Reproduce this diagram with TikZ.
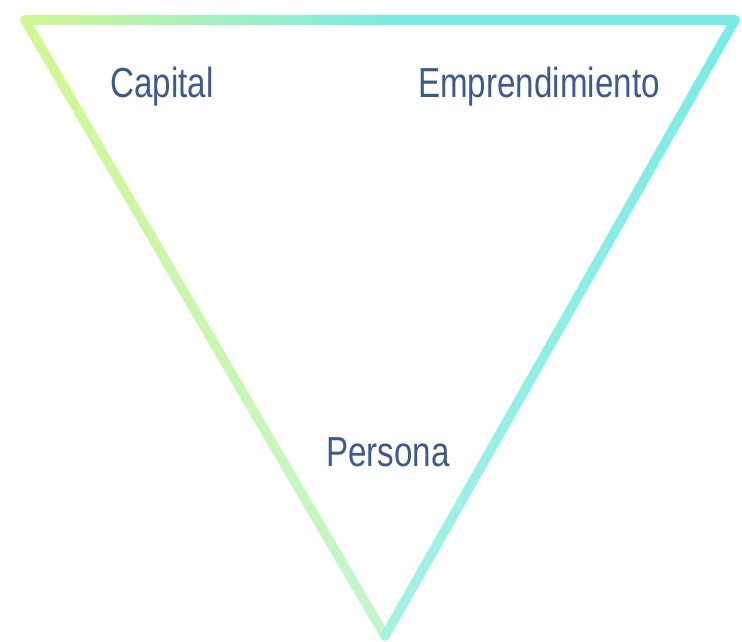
\documentclass[tikz,border=0pt]{standalone}
\usepackage{fontspec}
\setmainfont{Liberation Sans}[FakeStretch=0.79]
\usetikzlibrary{calc}
\definecolor{txt}{RGB}{61,90,138}
\definecolor{yg}{RGB}{208,248,145}
\definecolor{cy}{RGB}{120,236,230}
\definecolor{ygb}{RGB}{195,246,205}
\definecolor{cyb}{RGB}{165,242,228}
\tikzset{
  edge/.style={line width=9.5pt, line cap=round, line join=round},
  lbl/.style={anchor=base west, text=txt, font=\fontsize{42}{48}\selectfont, inner sep=0pt}
}
\begin{document}
\begin{tikzpicture}[x=1pt,y=-1pt]
\useasboundingbox (0,0) rectangle (742,642);
\coordinate (TL) at (25,20);
\coordinate (TM) at (390,20);
\coordinate (TR) at (735,20);
\coordinate (B) at (385,636);
% left edge
\foreach \i in {0,...,39}{
  \pgfmathsetmacro{\ta}{\i/40}
  \pgfmathsetmacro{\tb}{(\i+1)/40}
  \pgfmathsetmacro{\pc}{100*\ta}
  \colorlet{segc}{ygb!\pc!yg}
  \draw[edge, segc] ($(TL)!\ta!(B)$) -- ($(TL)!\tb!(B)$);
}
% right edge
\foreach \i in {0,...,39}{
  \pgfmathsetmacro{\ta}{\i/40}
  \pgfmathsetmacro{\tb}{(\i+1)/40}
  \pgfmathsetmacro{\pc}{100*\ta}
  \colorlet{segc}{cyb!\pc!cy}
  \draw[edge, segc] ($(TR)!\ta!(B)$) -- ($(TR)!\tb!(B)$);
}
% top edge
\foreach \i in {0,...,39}{
  \pgfmathsetmacro{\ta}{\i/40}
  \pgfmathsetmacro{\tb}{(\i+1)/40}
  \pgfmathsetmacro{\pc}{100*\ta}
  \colorlet{segc}{cy!\pc!yg}
  \draw[edge, segc] ($(TL)!\ta!(TM)$) -- ($(TL)!\tb!(TM)$);
}
\draw[edge, cy] (TM) -- (TR);
\node[lbl] (capital) at (110,97) {Capital};
\node[lbl] (empr) at (418,97) {Emprendimiento};
\node[lbl] (persona) at (326,466) {Persona};
\end{tikzpicture}
\end{document}
